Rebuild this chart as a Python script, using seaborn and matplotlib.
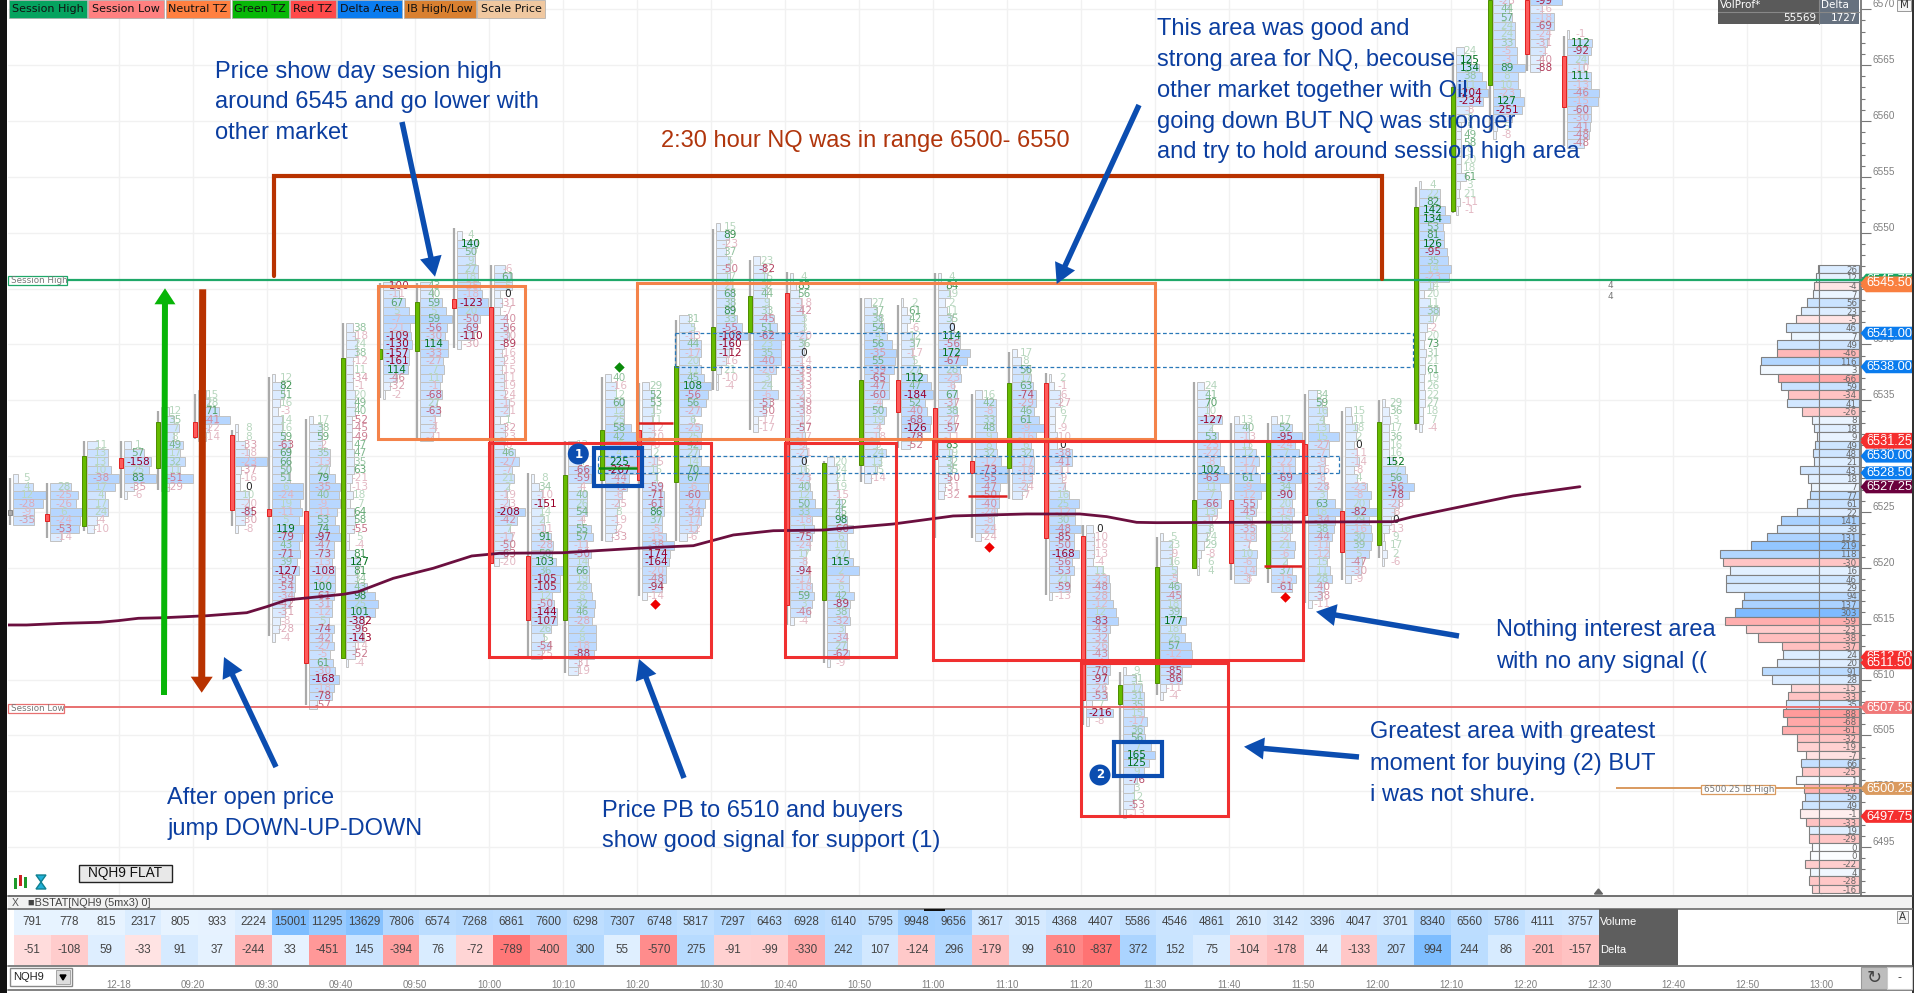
import numpy as np
import matplotlib
matplotlib.use("Agg")
import matplotlib.pyplot as plt
from matplotlib.colors import LinearSegmentedColormap, to_rgb
from matplotlib.patches import Rectangle, Polygon, FancyArrow, Circle
import seaborn as sns

# ---- table values ----
VOLUME = [791,778,815,2317,805,933,2224,15001,11295,13629,7806,6574,7268,6861,7600,6298,7307,6748,5817,7297,6463,6928,6140,5795,9948,9656,3617,3015,4368,4407,5586,4546,4861,2610,3142,3396,4047,3701,8340,6560,5786,4111,3757]
DELTA = [-51,-108,59,-33,91,37,-244,33,-451,145,-394,76,-72,-789,-400,300,55,-570,275,-91,-99,-330,242,107,-124,296,-179,99,-610,-837,372,152,75,-104,-178,44,-133,207,994,244,86,-201,-157]
TIME_LABELS = ["12-18","09:20","09:30","09:40","09:50","10:00","10:10","10:20","10:30","10:40","10:50","11:00","11:10","11:20","11:30","11:40","11:50","12:00","12:10","12:20","12:30","12:40","12:50","13:00"]

# ---- candles: high, body top, body bottom, low ----
CANDLE_HIGH = [6528.05,6527.55,6531.35,6531.35,6534.0,6535.55,6532.35,6537.1,6533.35,6541.9,6545.5,6545.5,6550.45,6547.15,6528.5,6531.35,6537.1,6536.55,6542.2,6550.35,6547.6,6546.45,6529.55,6544.15,6543.55,6546.4,6535.55,6539.35,6537.45,6523.85,6510.7,6522.75,6536.6,6533.0,6533.0,6535.55,6534.0,6535.05,6554.1,6566.15,6570.8,6570.8,6567.6]
BODY_TOP = [6525.2,6524.85,6530.05,6529.85,6533.05,6533.05,6531.85,6525.25,6525.1,6538.8,6539.6,6543.8,6544.05,6543.35,6521.1,6528.35,6532.35,6532.35,6538.05,6541.55,6544.35,6544.6,6529.35,6536.85,6536.85,6534.3,6529.6,6536.55,6536.55,6522.85,6509.55,6520.1,6526.1,6526.1,6531.25,6531.1,6525.05,6533.05,6552.3,6563.0,6570.8,6570.8,6565.8]
BODY_BOT = [6524.75,6524.15,6523.7,6528.95,6528.95,6531.7,6525.15,6524.65,6511.5,6511.95,6538.7,6539.45,6543.25,6520.45,6515.35,6515.35,6527.9,6527.9,6527.65,6537.75,6541.15,6516.7,6517.15,6529.2,6533.95,6529.75,6528.5,6528.9,6522.7,6508.2,6507.85,6509.7,6520.0,6520.45,6520.0,6524.7,6521.4,6522.0,6532.95,6551.9,6563.2,6566.0,6561.25]
CANDLE_LOW = [6523.85,6522.7,6523.3,6526.25,6527.0,6531.5,6523.7,6513.85,6507.75,6511.95,6535.2,6531.65,6539.7,6520.3,6512.1,6510.6,6522.4,6517.45,6522.4,6535.95,6532.35,6514.9,6511.5,6527.65,6530.75,6522.7,6522.7,6526.15,6517.6,6505.95,6497.9,6508.65,6519.95,6518.9,6518.65,6516.85,6518.9,6520.9,6532.3,6551.75,6559.0,6564.45,6557.75]
CANDLE_KIND = list("NRGRGRRRRGGGRRRGGRGGGRGGRRRGRRGGGRGRRGGGGRR")
ROW_TOP = [6528.0,6527.25,6531.0,6531.0,6534.0,6535.5,6532.5,6537.0,6533.25,6541.5,6545.25,6545.25,6549.75,6546.75,6528.0,6531.0,6537.0,6536.25,6542.25,6550.5,6547.5,6546.0,6529.5,6543.75,6543.75,6546.0,6535.5,6539.25,6537.0,6523.5,6510.75,6522.75,6536.25,6533.25,6533.25,6535.5,6534.0,6534.75,6554.25,6566.25,6570.75,6570.75,6567.75]

# ---- footprint rows: delta text and traded size of each row, top row first ----
D00=[5,4,12,-28,-9,-35]
V00=[5,20,33,30,21,21]
D01=[28,-25,-26,6,-24,-53,-14]
V01=[21,28,26,32,30,29,11]
D02=[11,13,13,10,-38,17,4,17,24,-4,-10]
V02=[11,21,21,24,32,28,18,21,21,10,7]
D03=[1,57,-158,25,83,-35,-6]
V03=[7,20,27,25,32,10,3]
D04=[12,35,7,8,49,17,32,11,-51,-29]
V04=[8,13,18,13,22,19,24,19,32,8]
D05=[15,28,71,-41,-22,-14]
V05=[8,11,21,32,11,8]
D06=[8,8,-33,-18,-23,-37,-16,0,10,-20,-85,-30,-8]
V06=[3,3,10,14,32,6,5,5,14,14,17,10,3]
D07=[12,82,51,16,-3,14,16,59,-63,69,66,50,51,6,-24,19,-11,5,119,-79,43,-71,39,-127,-59,-54,-34,-42,-31,-8,-28,-4]
V07=[3,12,12,8,6,10,10,13,18,18,18,18,18,31,31,28,30,27,32,30,27,28,25,27,23,23,22,18,13,8,7,3]
D08=[17,38,59,-2,35,-13,27,79,-35,40,-9,-11,53,74,-97,-47,-73,-13,-108,-22,100,-61,-31,-12,5,-74,-42,-27,-5,61,-30,-168,-18,-78,-57]
V08=[4,13,13,13,21,21,20,26,31,30,31,28,26,30,32,25,25,23,26,26,26,25,23,23,20,25,23,25,21,24,26,30,25,23,8]
D09=[38,-18,24,38,-12,11,-34,-1,20,49,40,-52,-45,-49,47,47,35,63,-21,-13,18,7,64,58,-55,5,-4,81,127,81,34,43,98,25,101,-382,-96,-143,-14,-52,-4]
V09=[7,9,11,11,7,7,7,7,9,9,9,6,6,6,6,8,8,8,6,4,7,4,8,9,8,3,3,9,14,11,11,21,29,32,29,18,16,18,9,9,2]
D10=[-100,-11,67,5,-7,-21,-109,-130,-157,-161,114,-46,-32,-2]
V10=[12,16,22,26,32,27,28,29,26,26,25,14,7,2]
D11=[43,40,59,5,59,-56,-30,114,-33,-27,7,11,-1,-68,27,-63,-1,-4,-21]
V11=[12,13,22,26,32,27,25,28,28,23,24,22,20,22,17,20,15,15,13]
D12=[4,140,50,9,27,18,-25,-18,-123,20,-50,-69,-110,-30]
V12=[5,20,18,18,21,21,23,25,31,32,23,20,17,4]
D13=[-6,61,5,0,-31,-7,-40,-56,-30,-89,-16,-23,-15,-11,-19,-24,-15,-21,1,-32,-23,-6,46,-27,-7,21,2,-19,-23,-208,-42,7,-17,-50,-63,-20]
V13=[11,18,18,6,8,6,13,14,15,10,8,10,8,10,10,11,15,15,6,11,11,10,21,25,18,20,15,13,15,31,23,16,18,16,13,5]
D14=[8,34,-10,-151,14,21,-11,91,-28,50,103,36,-105,-105,12,-50,-144,-107,26,5,-54,-25]
V14=[3,8,11,13,11,13,14,20,22,21,25,32,29,29,21,23,26,26,20,13,19,11]
D15=[12,15,4,-66,-59,-4,40,26,54,-4,55,57,-11,-50,14,66,19,28,8,32,46,-28,2,8,-18,-88,-31,-19]
V15=[9,11,13,24,23,13,19,19,19,14,23,25,19,23,20,21,21,23,24,27,26,24,28,28,28,26,11,10]
D16=[40,-16,12,60,12,25,58,42,7,4,225,-267,-44,-41,-6,-25,8,-19,-2,-33]
V16=[6,11,11,19,19,19,26,32,32,31,32,32,24,22,17,14,12,12,11,7]
D17=[29,52,53,15,11,-12,-20,-8,2,-15,15,1,-59,-71,-61,86,37,-5,-15,-38,-174,-164,-20,-48,-94,-14]
V17=[7,12,12,12,10,12,12,9,9,15,15,15,20,22,22,22,20,20,24,32,28,27,24,24,20,5]
D18=[31,5,-13,44,-17,20,11,45,108,-56,56,-27,6,-25,25,42,27,14,70,67,-6,-60,-27,-34,-17,-12,-6]
V18=[10,15,15,22,22,20,22,25,32,29,27,22,15,23,22,22,20,22,30,30,29,30,26,24,22,18,8]
D19=[15,89,-23,37,5,-50,17,21,68,38,89,33,-55,-108,-160,-112,-16,21,-10,-4]
V19=[4,13,10,10,14,14,14,16,18,18,18,21,26,32,17,13,10,5,2,2]
D20=[23,-82,15,32,44,9,33,-45,51,-62,23,35,-40,-20,3,24,-6,-53,-50,-17,-17]
V20=[7,12,14,14,14,16,16,21,24,32,28,28,28,23,18,18,25,17,13,5,5]
D21=[4,85,56,-18,-42,3,3,-20,36,0,-14,-39,-33,-33,-23,-39,-38,-12,-57,-17,-2,-21,0,16,-23,40,12,50,33,-18,1,-75,-24,17,-8,-94,-17,-18,59,3,-46,-4]
V21=[3,6,9,11,12,14,14,16,14,14,12,12,12,12,14,14,14,14,14,15,16,17,15,16,19,20,22,25,32,22,24,22,20,16,16,18,20,22,24,22,20,4]
D22=[20,24,21,19,-15,42,45,98,-60,6,10,27,115,2,-2,6,42,-89,38,-32,3,-34,27,-62,-9]
V22=[7,10,10,10,12,15,15,20,26,20,20,22,26,32,22,22,27,23,22,23,18,20,20,22,3]
D23=[27,37,38,54,4,56,-35,55,-39,-65,-47,-60,-4,50,19,-4,-18,5,24,13,15,-14]
V23=[7,13,17,20,23,28,32,31,30,25,25,25,18,22,20,15,15,13,22,17,13,7]
D24=[2,61,42,-6,12,37,-17,5,27,112,47,-184,52,-40,-68,-126,-78,-52]
V24=[2,6,9,6,13,13,11,13,19,26,30,32,24,26,30,29,21,9]
D25=[4,84,19,2,11,35,0,114,-56,172,-67,28,-23,-6,67,-37,38,-27,-57,-11,83,19,32,35,-50,-31,-32]
V25=[3,9,12,7,9,14,16,22,22,32,29,22,23,16,19,17,19,16,17,12,12,14,14,14,12,7,6]
D26=[16,42,-8,33,48,9,8,32,-12,-73,-55,-47,-50,-40,-24,-8,-24,-24]
V26=[7,21,21,21,21,22,21,22,26,32,32,25,24,24,22,19,19,6]
D27=[17,8,56,17,63,-74,-29,46,61,-9,-16,6,32,-17,-18,-13,-24,-7]
V27=[5,9,18,19,21,24,24,22,27,32,24,19,21,22,22,20,15,10]
D28=[2,-1,-6,-27,6,7,-9,-10,0,-38,-41,-11,-9,-7,16,25,-12,30,-48,-85,-50,-168,-56,-53,21,-59,-13]
V28=[2,5,11,11,6,6,6,8,8,23,23,13,13,16,20,30,26,26,32,25,25,30,23,25,21,21,3]
D29=[0,-10,-16,-13,-4,11,-23,-48,-28,-12,12,-83,-43,-32,-26,-43,-4,-70,-97,-26,-53,7,-216,-8]
V29=[7,8,8,8,7,17,23,24,24,27,30,32,24,22,22,22,24,24,22,19,21,6,27,3]
D30=[9,31,17,31,35,15,-17,36,56,7,165,125,9,-76,3,12,-53,-13]
V30=[3,13,19,21,21,21,24,21,22,28,32,26,21,14,11,11,11,3]
D31=[5,23,-9,16,5,-5,46,-45,18,39,177,18,26,57,-12,-2,-85,-86,-11,-4]
V31=[3,12,12,12,17,17,21,21,21,21,26,21,25,31,32,31,22,22,6,3]
D32=[24,41,70,10,-127,2,53,-23,-22,-8,102,-63,11,7,-66,13,-12,8,24,29,-8,6,4]
V32=[7,12,12,12,25,15,21,23,23,23,27,32,23,24,24,20,15,13,10,7,4,2,2]
D33=[13,40,-13,13,12,-17,-17,61,-9,-12,-55,-45,5,-35,-18,-7,10,-6,-14,-8]
V33=[5,15,15,15,22,25,22,26,32,27,23,22,18,22,22,15,23,22,22,15]
D34=[17,52,-95,-24,7,-22,-11,-69,34,-90,20,-14,15,16,-2,21,-6,2,37,-15,-61]
V34=[6,21,31,24,28,24,24,30,24,24,21,23,21,21,19,24,23,16,21,25,21]
D35=[34,59,16,4,13,15,-27,-7,-9,-16,-6,-28,3,63,18,-34,38,-44,-11,-12,15,11,28,-40,-38,-11]
V35=[9,14,19,16,21,31,21,21,17,16,16,19,19,27,32,27,26,24,21,21,19,22,24,16,14,4]
D36=[15,11,18,2,0,-11,-14,-8,4,-23,-8,20,-82,29,-16,30,39,5,-47,-30,-9]
V36=[6,7,12,11,9,12,14,9,12,22,26,24,32,24,26,27,26,24,17,16,6]
D37=[29,36,3,17,36,16,16,152,7,56,-56,-78,-28,-8,0,-13,9,17,2,-6]
V37=[3,7,8,7,7,7,7,13,23,25,32,27,17,12,9,7,2,3,5,2]
D38=[4,22,82,142,134,53,81,126,-95,35,14,-23,14,20,11,38,17,-2,20,73,31,21,61,19,26,22,27,18,7,-4]
V38=[2,21,21,26,31,24,25,25,28,29,32,30,14,5,11,20,14,8,6,5,7,6,6,5,5,6,6,4,4,3]
D39=[24,125,134,38,11,-204,-234,-8,8,5,49,58,9,20,18,61,3,21,-11,-1]
V39=[8,15,23,26,30,32,27,13,8,5,5,5,5,5,5,10,4,3,4,2]
D40=[-25,44,57,24,24,33,-5,-3,89,8,10,-23,127,-251,-3,5,-8]
V40=[16,16,19,22,22,22,24,24,32,25,25,27,31,29,19,4,3]
D41=[-99,-16,-18,-69,-24,-31,-1,-40,-88]
V41=[32,12,24,24,19,17,15,10,10]
D42=[-1,112,-92,24,-10,111,-13,-46,-15,-60,-30,-41,-48,-48]
V42=[2,25,24,21,17,24,24,32,31,24,24,23,22,17]

ROW_DELTAS = [D00,D01,D02,D03,D04,D05,D06,D07,D08,D09,D10,D11,D12,D13,D14,D15,D16,D17,D18,D19,D20,D21,D22,D23,D24,D25,D26,D27,D28,D29,D30,D31,D32,D33,D34,D35,D36,D37,D38,D39,D40,D41,D42]
ROW_VOLS = [V00,V01,V02,V03,V04,V05,V06,V07,V08,V09,V10,V11,V12,V13,V14,V15,V16,V17,V18,V19,V20,V21,V22,V23,V24,V25,V26,V27,V28,V29,V30,V31,V32,V33,V34,V35,V36,V37,V38,V39,V40,V41,V42]
bad = [i for i, (d, v) in enumerate(zip(ROW_DELTAS, ROW_VOLS)) if len(d) != len(v)]
assert not bad, f"row length mismatch {bad}"

# ---- VWAP ----
VWAP_TIME = [-0.07,0.45,1.44,2.43,2.93,3.47,4.14,5.32,6.4,6.94,7.48,9.01,9.41,10.36,11.44,12.48,13.24,14.95,16.94,18.47,19.55,20.63,21.98,23.87,25.49,27.48,28.92,29.64,30.45,30.99,37.38,37.92,38.92,40.62,42.43]
VWAP_PRICE = [6514.88,6514.88,6515.03,6515.12,6515.27,6515.48,6515.53,6515.71,6515.98,6516.52,6517.12,6517.63,6517.86,6519.06,6519.96,6521.06,6521.3,6521.35,6521.75,6521.98,6522.94,6523.32,6523.38,6523.92,6524.64,6524.82,6524.82,6524.58,6524.07,6524.04,6524.13,6524.58,6525.27,6526.43,6527.26]

# ---- volume profile at the right, top row 6546.75 ----
PROFILE_TOP = 6546.75
PROFILE_DELTA = [26,12,-4,7,56,23,-5,46,7,49,-46,116,3,-66,59,-34,41,-26,8,18,9,49,48,21,43,18,7,77,61,22,141,38,131,219,118,-30,16,46,29,94,137,303,-59,-23,-38,-37,24,20,91,28,-15,-33,35,-88,-68,-61,-32,-19,-7,66,-25,1,-54,56,49,-1,-33,19,-29,0,0,-22,4,-28,-16]
PROFILE_VOL = [1,3,5,6,12,18,23,33,28,42,42,58,59,41,38,31,32,17,7,5,2,4,6,5,19,11,8,9,12,22,38,42,52,68,99,96,89,93,93,75,77,84,94,73,61,37,36,42,57,47,28,31,33,36,32,37,22,22,13,18,17,23,15,14,17,19,13,10,10,7,9,14,9,10,7]

SESSION_HIGH, SESSION_LOW, IB_HIGH = 6545.75, 6507.5, 6500.25
DASH_UPPER = (6541.0, 6538.0)
DASH_LOWER = (6530.0, 6528.5)
TAG_PRICES = [6545.75,6545.25,6545.50,6541.00,6538.00,6531.50,6531.25,6530.00,6528.50,6527.25,6512.00,6511.50,6507.50,6500.25,6497.75]
TAG_COLORS = ["#16a765","#f97f3f","#f97f3f","#0a7cee","#0a7cee","#f52e2e","#f52e2e","#0a7cee","#0a7cee","#6b003d","#f52e2e","#f52e2e","#f07878","#da9a5f","#f52e2e"]
LEGEND_NAMES = ["Session High","Session Low","Neutral TZ","Green TZ","Red TZ","Delta Area","IB High/Low","Scale Price"]
LEGEND_COLORS = ["#05a35f","#ff8080","#ff8040","#07b807","#ff4a4a","#0a7cf0","#d98030","#f0c8a0"]

# ---- layout ----
W, H = 1915, 993
AX_L, AX_R, AX_B = 8, 1861, 895
X0, DX = 10.0, 37.0
Y6570, PXPT = 9.3, 11.17
def xi(px): return (px - X0) / DX
def yp(price): return Y6570 + (6570 - price) * PXPT
def frac(l, t, r, b): return [l / W, 1 - b / H, (r - l) / W, (b - t) / H]

sns.set_theme(style="white")
plt.rcParams["font.family"] = ["DejaVu Sans"]
fig = plt.figure(figsize=(W / 100, H / 100), dpi=100, facecolor="white")

ax = fig.add_axes(frac(AX_L, 0, AX_R, AX_B))
ax.set_xlim(xi(AX_L), xi(AX_R))
ax.set_ylim(6570 - (AX_B - Y6570) / PXPT, 6570 + Y6570 / PXPT)
ax.set_facecolor("white")
for s in ("top", "left", "bottom"):
    ax.spines[s].set_visible(False)
ax.spines["right"].set_color("#777777")
ax.spines["right"].set_linewidth(1.3)
tick_idx = np.arange(len(TIME_LABELS)) * 2 + 3 - 0.05
ax.set_xticks(tick_idx)
ax.set_xticklabels([])
ax.tick_params(axis="x", length=0)
ax.yaxis.tick_right()
ax.set_yticks(np.arange(6495, 6575, 5))
ax.set_yticks(np.arange(6491, 6571, 1), minor=True)
ax.set_yticklabels([str(v) for v in range(6495, 6575, 5)], family="Liberation Sans", fontsize=7.2, color="#808080", va="bottom")
ax.tick_params(axis="y", which="major", length=7.2, width=0.8, color="#777777", pad=1)
ax.tick_params(axis="y", which="minor", length=2.9, width=0.8, color="#777777")
ax.grid(True, which="major", color="#f1f1f1", lw=1)
ax.set_axisbelow(True)

# footprints
BLUE_LO, BLUE_HI = np.array(to_rgb("#f2f7ff")), np.array(to_rgb("#b2d4ff"))
def mix(a, b, t):
    return tuple(np.array(to_rgb(a)) * (1 - t) + np.array(to_rgb(b)) * t)
def label_color(v):
    if v == 0:
        return "#222222"
    t = min(1.0, max(0.28, (abs(v) / 120) ** 0.75))
    return mix("#ffffff", "#00701c" if v > 0 else "#9a0028", t)

for i, (top, deltas, vols) in enumerate(zip(ROW_TOP, ROW_DELTAS, ROW_VOLS)):
    y = top - 0.75 * np.arange(len(deltas))
    cols = [tuple(BLUE_LO + (BLUE_HI - BLUE_LO) * min(1, v / 34)) for v in vols]
    ax.barh(y, np.array(vols) / DX, left=i + 3 / DX, height=0.75, color=cols,
            edgecolor="#c2c2c2", linewidth=0.7, zorder=2)
    for yy, d in zip(y, deltas):
        ax.text(i + 17 / DX, yy, str(d), ha="center", va="center", fontsize=7.6,
                color=label_color(d), zorder=3, clip_on=True)

KIND_COL = {"G": ("#66bb00", "#4d8c00"), "R": ("#ff5a5a", "#e02020"), "N": ("#aaaaaa", "#888888")}
for i in range(len(CANDLE_HIGH)):
    ax.vlines(i, CANDLE_LOW[i], CANDLE_HIGH[i], color="#aaaaaa", lw=1.6, zorder=4)
    fc, ec = KIND_COL[CANDLE_KIND[i]]
    ax.bar(i, BODY_TOP[i] - BODY_BOT[i], bottom=BODY_BOT[i], width=3.4 / DX, color=fc,
           edgecolor=ec, linewidth=0.7, zorder=5)

# VWAP through seaborn
sns.lineplot(x=VWAP_TIME, y=VWAP_PRICE, ax=ax, color="#6b0f3f", lw=2, sort=False,
             estimator=None, legend=False, zorder=6)
ax.set_xlim(xi(AX_L), xi(AX_R))
ax.set_ylim(6570 - (AX_B - Y6570) / PXPT, 6570 + Y6570 / PXPT)
ax.set_xlabel("")
ax.set_ylabel("")

# levels
ax.axhline(SESSION_HIGH, color="#1fa869", lw=1.6, zorder=7)
ax.axhline(SESSION_LOW, color="#e87070", lw=1.4, zorder=7)
ax.hlines(IB_HIGH, xi(1616), xi(AX_R), color="#d99a5f", lw=1.4, zorder=7)
for a, b, l, r in [(DASH_UPPER[0], DASH_UPPER[1], 675, 1413), (DASH_LOWER[0], DASH_LOWER[1], 598, 1339)]:
    ax.hlines([a, b], xi(l), xi(r), color="#2a78b8", lw=0.9, linestyles=(0, (3, 2)), zorder=7)
    ax.vlines([xi(l), xi(r)], b, a, color="#2a78b8", lw=0.9, linestyles=(0, (3, 2)), zorder=7)
ax.hlines([6533.0, 6526.45, 6520.2], [16.92, 25.89, 33.89], [17.92, 26.95, 34.95], color="#dd2020", lw=1.8, zorder=7)
ax.hlines(6528.9, 15.9, 16.95, color="#0d8a0d", lw=1.8, zorder=7)
ax.scatter([16.45], [6538.0], marker="D", s=28, color="#0a8a0a", zorder=8, linewidths=0)
ax.scatter([17.43, 26.45, 34.45], [6516.76, 6521.9, 6517.4], marker="D", s=28, color="#ee0000", zorder=8, linewidths=0)

# profile
PX_C = 1818.7
py = PROFILE_TOP - 0.75 * np.arange(len(PROFILE_DELTA))
def prof_col(v):
    if v >= 0:
        return mix("#fbfdff", "#7fbbff", min(1, (v / 303) ** 0.55))
    return mix("#fff4f4", "#ff9a9a", min(1, (abs(v) / 90) ** 0.6))
pc = [prof_col(v) for v in PROFILE_DELTA]
ax.barh(py, -np.array(PROFILE_VOL) / DX, left=xi(PX_C), height=0.75, color=pc, edgecolor="#808080", linewidth=0.8, zorder=3)
ax.barh(py, np.full(len(py), 40 / DX), left=xi(PX_C), height=0.75, color=pc, edgecolor="#808080", linewidth=0.8, zorder=3)
for yy, d in zip(py, PROFILE_DELTA):
    ax.text(xi(1857), yy - 0.1, str(d), ha="right", va="center", fontsize=6.2, color="#666666", zorder=4)

# table rows
vol_cmap = LinearSegmentedColormap.from_list("v", ["#ffffff", "#7dbdff"])
del_cmap = LinearSegmentedColormap.from_list("d", ["#ff6e6e", "#ffffff", "#7dbdff"])
ax_v = fig.add_axes(frac(14, 909.3, 1598.6, 935))
sns.heatmap(np.array([VOLUME]), ax=ax_v, cmap=vol_cmap, vmin=-2500, vmax=15001, cbar=False,
            annot=np.array([[str(v) for v in VOLUME]]), fmt="", xticklabels=False, yticklabels=False,
            annot_kws={"fontsize": 8.4, "color": "#444444", "family": "Liberation Sans"})
ax_d = fig.add_axes(frac(14, 935, 1598.6, 965))
signed = np.sign(DELTA) * np.sqrt(np.abs(DELTA))
sns.heatmap(np.array([signed]), ax=ax_d, cmap=del_cmap, vmin=-30, vmax=30, cbar=False,
            annot=np.array([[str(v) for v in DELTA]]), fmt="", xticklabels=False, yticklabels=False,
            annot_kws={"fontsize": 8.4, "color": "#444444", "family": "Liberation Sans"})

# time axis
ax_t = fig.add_axes(frac(AX_L, 964, AX_R, 965))
ax_t.set_xlim(xi(AX_L), xi(AX_R))
ax_t.set_yticks([])
for s in ax_t.spines.values():
    s.set_visible(False)
ax_t.patch.set_alpha(0)
ax_t.set_xticks(tick_idx)
ax_t.set_xticklabels(TIME_LABELS, family="Liberation Sans", fontsize=7, color="#808080")
ax_t.tick_params(axis="x", length=3.6, width=0.8, color="#777777", pad=7)
ax_t.grid(False)

# ---- overlay in figure pixels: chrome and hand-drawn notes ----
ov = fig.add_axes([0, 0, 1, 1], facecolor="none")
ov.set_xlim(0, W)
ov.set_ylim(H, 0)
ov.axis("off")
def box(l, t, r, b, fc="none", ec="none", lw=0, z=10):
    ov.add_patch(Rectangle((l, t), r - l, b - t, facecolor=fc, edgecolor=ec, linewidth=lw, zorder=z))

box(0, 0, 7, H, fc="#111111")
box(1912.5, 0, 1915, H, fc="#333333")
box(8, 895.7, 1912, 909.3, fc="#f2f2f2")
for yy, c in [(895.7, "#666666"), (909.3, "#777777"), (965.5, "#777777"), (990, "#777777")]:
    ov.plot([8, 1912], [yy, yy], color=c, lw=1.3, zorder=11)
ov.text(15, 902.5, "X", fontsize=7.5, color="#555555", ha="center", va="center", family="Liberation Sans", zorder=12)
ov.text(28, 902.5, "■BSTAT[NQH9 (5mx3) 0]", fontsize=7.8, color="#444444", va="center", family="Liberation Sans", zorder=12)
box(924, 909, 945, 911, fc="#111111", z=12)
ov.add_patch(Polygon([[1594.5, 894], [1602.5, 894], [1598.5, 889]], color="#666666", zorder=12))
box(1598.6, 909.3, 1677.6, 965, fc="#5e5e5e", z=12)
ov.text(1600, 922, "Volume", fontsize=8, color="white", va="center", family="Liberation Sans", zorder=13)
ov.text(1600, 950, "Delta", fontsize=8, color="white", va="center", family="Liberation Sans", zorder=13)
box(10, 968, 72, 986, fc="white", ec="#888888", lw=1, z=12)
box(56, 970, 70, 984, fc="#dddddd", ec="#999999", lw=0.6, z=13)
ov.text(13, 977, "NQH9", fontsize=8, color="#222222", va="center", family="Liberation Sans", zorder=13)
ov.add_patch(Polygon([[60, 975], [66, 975], [63, 980]], color="black", zorder=14))
box(1861, 967, 1887, 989, fc="#bdbdbd", ec="#999999", lw=0.8, z=12)
ov.text(1874, 978, "↻", fontsize=13, color="#444444", ha="center", va="center", zorder=13)
box(1887, 967, 1912, 989, fc="white", ec="#cccccc", lw=0.8, z=12)
ov.text(1899, 977, "-", fontsize=8, color="#333333", ha="center", va="center", zorder=13)
box(1897, 911, 1908, 923, fc="#f5f5f5", ec="#999999", lw=0.7, z=12)
ov.text(1902.5, 917, "A", fontsize=7.5, color="#333333", ha="center", va="center", zorder=13)
box(1897, 0, 1911, 11, fc="#f5f5f5", ec="#999999", lw=0.7, z=12)
ov.text(1904, 5, "M", fontsize=7.5, color="#333333", ha="center", va="center", zorder=13)

# legend strip
edges = [(9, 87.5), (88.5, 164), (166, 230), (232, 288.6), (290, 335.7), (337.5, 401.8), (403.6, 475.7), (477.5, 544.6)]
for (l, r), name, col in zip(edges, LEGEND_NAMES, LEGEND_COLORS):
    box(l, 0, r, 18, fc=col, ec="#aaaaaa", lw=0.5)
    ov.text((l + r) / 2, 9, name, fontsize=8, color="#111111", ha="center", va="center", zorder=12)

# volprof box
box(1718, 0, 1818.7, 24, fc="#5a5a5a")
box(1818.7, 0, 1858.7, 24, fc="#66717f")
ov.plot([1718, 1858.7], [11.7, 11.7], color="#888888", lw=0.8, zorder=11)
ov.plot([1818.7, 1818.7], [0, 24], color="#888888", lw=0.8, zorder=11)
ov.text(1720, 5.5, "VolProf*", fontsize=7.5, color="white", va="center", zorder=12)
ov.text(1821, 5.5, "Delta", fontsize=7.5, color="white", va="center", zorder=12)
ov.text(1816, 18, "55569", fontsize=7.5, color="white", va="center", ha="right", zorder=12)
ov.text(1857, 18, "1727", fontsize=7.5, color="white", va="center", ha="right", zorder=12)

# session tags
box(8, 275.7, 67, 285, fc="white", ec="#1fa869", lw=0.9)
ov.text(11, 280.5, "Session High", fontsize=6.3, color="#777777", va="center", zorder=12)
box(8, 704, 64, 713.3, fc="white", ec="#e87070", lw=0.9)
ov.text(11, 708.8, "Session Low", fontsize=6.3, color="#777777", va="center", zorder=12)
box(1701, 785, 1774.7, 794, fc="white", ec="#d99a5f", lw=0.9)
ov.text(1704, 789.5, "6500.25 IB High", fontsize=6.3, color="#777777", va="center", zorder=12)
ov.text(1610, 285.7, "4", fontsize=6.5, color="#777777", ha="center", va="center", zorder=12)
ov.text(1610, 296.7, "4", fontsize=6.5, color="#777777", ha="center", va="center", zorder=12)

# price tags, later tags over earlier ones
for n, (p, c) in enumerate(zip(TAG_PRICES, TAG_COLORS)):
    y = yp(p)
    ov.add_patch(Polygon([[1860.5, y], [1866, y - 6.5], [1912, y - 6.5], [1912, y + 6.5], [1866, y + 6.5]],
                         facecolor=c, edgecolor="none", zorder=13 + n * 0.02))
    ov.text(1889, y + 0.3, f"{p:.2f}", fontsize=9.2, color="white", ha="center", va="center",
            family="Liberation Sans", zorder=13.01 + n * 0.02)

# NQH9 FLAT and the tool icons
box(79, 865, 172, 882, fc="#e8e8e8", ec="#222222", lw=1)
ov.text(125.5, 873.5, "NQH9 FLAT", fontsize=9.8, color="#111111", ha="center", va="center", family="Liberation Sans", zorder=12)
box(14, 878, 17, 889, fc="#1f9a2a"); box(19, 875, 22, 886, fc="#cc2222"); box(24, 877, 27, 888, fc="#1f9a2a")
ov.add_patch(Polygon([[36, 875], [46, 875], [36, 889], [46, 889]], facecolor="#20b0d8", edgecolor="#108090", lw=1, zorder=11))

# note frames
ORANGE, RED, BLUE, BROWN = "#f4834a", "#f03030", "#0b4db0", "#b83200"
for l, t, r, b in [(378.3, 286, 525, 439.3), (636.7, 283.3, 1155, 439.3)]:
    box(l, t, r, b, ec=ORANGE, lw=2.2, z=15)
for l, t, r, b in [(489.3, 443.3, 710.7, 657.3), (785, 443.3, 895.7, 657.3), (933.3, 441, 1302.7, 660), (1081, 662.7, 1228.3, 815.7)]:
    box(l, t, r, b, ec=RED, lw=2.2, z=15)
for l, t, r, b in [(594, 448.3, 642.3, 486), (1114.3, 742.3, 1161.7, 775.7)]:
    box(l, t, r, b, ec=BLUE, lw=3, z=15)
for cx, cy, s in [(578.3, 454, "1"), (1100, 775, "2")]:
    ov.add_patch(Circle((cx, cy), 10.5, facecolor=BLUE, edgecolor="none", zorder=16))
    ov.text(cx, cy, s, color="white", fontsize=8.5, fontweight="bold", ha="center", va="center", zorder=17)
ov.plot([274, 274, 1382.5, 1382.5], [276, 176, 176, 279], color=BROWN, lw=3, zorder=15, solid_joinstyle="miter")

def arrow(x0, y0, x1, y1, col, w, hw, hl):
    ov.add_patch(FancyArrow(x0, y0, x1 - x0, y1 - y0, width=w, head_width=hw, head_length=hl,
                            length_includes_head=True, color=col, zorder=15, lw=0))
arrow(164, 695, 165, 288.3, "#07b507", 6, 21, 16)
arrow(202.7, 289.3, 201.7, 692.7, BROWN, 7, 22, 16)
arrow(402, 122, 435, 276.7, BLUE, 5.5, 22, 20)
arrow(1139, 105, 1056.7, 284, BLUE, 5.5, 22, 20)
arrow(276, 767, 224, 657, BLUE, 5.5, 22, 20)
arrow(684, 778, 639, 659, BLUE, 5.5, 22, 20)
arrow(1459, 636, 1316, 611.7, BLUE, 5.5, 22, 20)
arrow(1359, 757, 1244, 746.7, BLUE, 5.5, 22, 20)

# notes
S = 1915 / 1568
NOTES = [
    (176, 57, "Price show day sesion high"), (176, 82, "around 6545 and go lower with"), (176, 107, "other market"),
    (947, 22, "This area was good and"), (947, 47.5, "strong area for NQ, becouse"), (947, 73, "other market together with Oil"),
    (947, 98, "going down BUT NQ was stronger"), (947, 123, "and try to hold around session high area"),
    (137, 652, "After open price"), (137, 677, "jump DOWN-UP-DOWN"),
    (493, 662, "Price PB to 6510 and buyers"), (493, 687, "show good signal for support (1)"),
    (1225, 514, "Nothing interest area"), (1225, 540, "with no any signal (("),
    (1122, 598, "Greatest area with greatest"), (1122, 624, "moment for buying (2) BUT"), (1122, 649, "i was not shure."),
]
for x, y, s in NOTES:
    ov.text(x * S, y * S + 2, s, fontsize=17, color="#0b3ea0", va="center", family="Liberation Sans", zorder=18)
ov.text(541 * S, 114 * S + 2, "2:30 hour NQ was in range 6500- 6550", fontsize=17, color="#b0350c", va="center",
        family="Liberation Sans", zorder=18)

fig.savefig("out.png", dpi=100, facecolor="white")
